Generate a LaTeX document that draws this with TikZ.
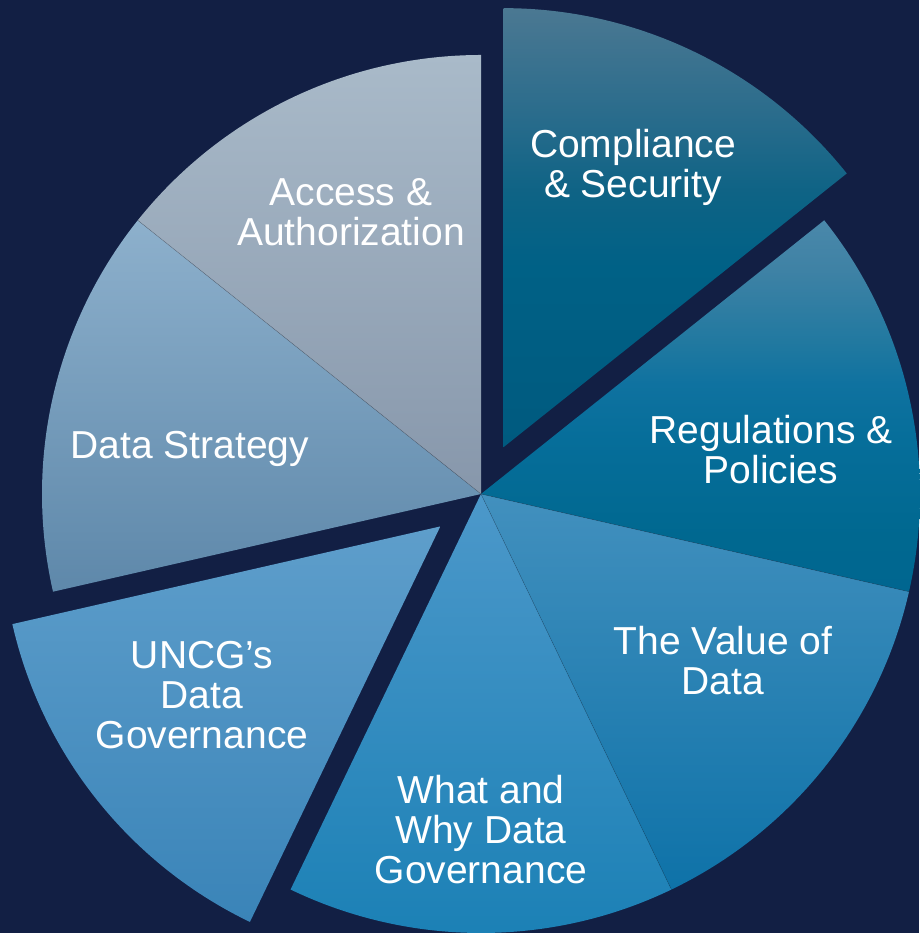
\documentclass[tikz,border=0pt]{standalone}
\usepackage{fontspec}
\setmainfont{Liberation Sans}
\usetikzlibrary{calc}

\definecolor{navybg}{HTML}{121F44}
\definecolor{valtop}{HTML}{4290BE}
\definecolor{valbot}{HTML}{0E72A8}
\definecolor{whytop}{HTML}{4C98CA}
\definecolor{whybot}{HTML}{1A80B5}
\definecolor{uncgtop}{HTML}{5E9ECB}
\definecolor{uncgbot}{HTML}{3A84B8}
\definecolor{strtop}{HTML}{8DB0CC}
\definecolor{strbot}{HTML}{5E88AA}
\definecolor{acctop}{HTML}{A9BAC9}
\definecolor{accbot}{HTML}{8797AB}

% two slices fade fast from a light rim
\pgfdeclareverticalshading{cmpshade}{100bp}{%
  rgb(0bp)=(0,0.353,0.498); rgb(25bp)=(0,0.353,0.498);
  rgb(45.5bp)=(0,0.380,0.525); rgb(54bp)=(0.055,0.388,0.522);
  rgb(63bp)=(0.165,0.424,0.549); rgb(75bp)=(0.294,0.471,0.573);
  rgb(100bp)=(0.294,0.471,0.573)}
\pgfdeclareverticalshading{regshade}{100bp}{%
  rgb(0bp)=(0,0.400,0.565); rgb(25bp)=(0,0.400,0.565);
  rgb(32.5bp)=(0,0.408,0.565); rgb(45.5bp)=(0.024,0.431,0.604);
  rgb(53bp)=(0.059,0.447,0.627); rgb(58bp)=(0.122,0.471,0.627);
  rgb(68.5bp)=(0.247,0.510,0.647); rgb(75bp)=(0.290,0.533,0.667);
  rgb(100bp)=(0.290,0.533,0.667)}

\begin{document}
\begin{tikzpicture}[x=1pt,y=1pt,
    lbl/.style={text=white,align=center,font=\fontsize{39}{40}\selectfont},
    sep/.style={black,opacity=0.25,line width=0.5pt}]
 \coordinate (ctr) at (0,0);
 \coordinate (cmp) at (64.29:52pt);
 \coordinate (uncg) at (218.57:52pt);

    % draw background
    \useasboundingbox (-481,-439) rectangle (438,494);
    \fill[navybg] (-481,-439) rectangle (438,494);

    % draw slices, clockwise from the top
    \shade[shading=cmpshade] (cmp) -- ++(90:439pt) arc (90:38.57:439pt) -- cycle;
    \shade[shading=regshade] (ctr) -- ++(38.57:439pt) arc (38.57:-12.86:439pt) -- cycle;
    \shade[top color=valtop,bottom color=valbot] (ctr) -- ++(-12.86:439pt) arc (-12.86:-64.29:439pt) -- cycle;
    \shade[top color=whytop,bottom color=whybot] (ctr) -- ++(-64.29:439pt) arc (-64.29:-115.71:439pt) -- cycle;
    \shade[top color=uncgtop,bottom color=uncgbot] (uncg) -- ++(-115.71:439pt) arc (-115.71:-167.14:439pt) -- cycle;
    \shade[top color=strtop,bottom color=strbot] (ctr) -- ++(192.86:439pt) arc (192.86:141.43:439pt) -- cycle;
    \shade[top color=acctop,bottom color=accbot] (ctr) -- ++(141.43:439pt) arc (141.43:90:439pt) -- cycle;

    % hairlines between touching slices
    \draw[sep] (ctr) -- ++(141.43:439pt);
    \draw[sep] (ctr) -- ++(-12.86:439pt);
    \draw[sep] (ctr) -- ++(-64.29:439pt);

    % labels
    \node[lbl] (compliance) at (152,327) {Compliance\\\& Security};
    \node[lbl] (regulations) at (290,44) {Regulations \&\\Policies};
    \node[lbl] (value) at (242,-167) {The Value of\\Data};
    \node[lbl] (whatwhy) at (0,-336) {What and\\Why Data\\Governance};
    \node[lbl] (uncgdg) at (-279,-201) {UNCG’s\\Data\\Governance};
    \node[lbl] (strategy) at (-291,45) {Data Strategy};
    \node[lbl] (access) at (-130,282) {Access \&\\Authorization};
\end{tikzpicture}
\end{document}
